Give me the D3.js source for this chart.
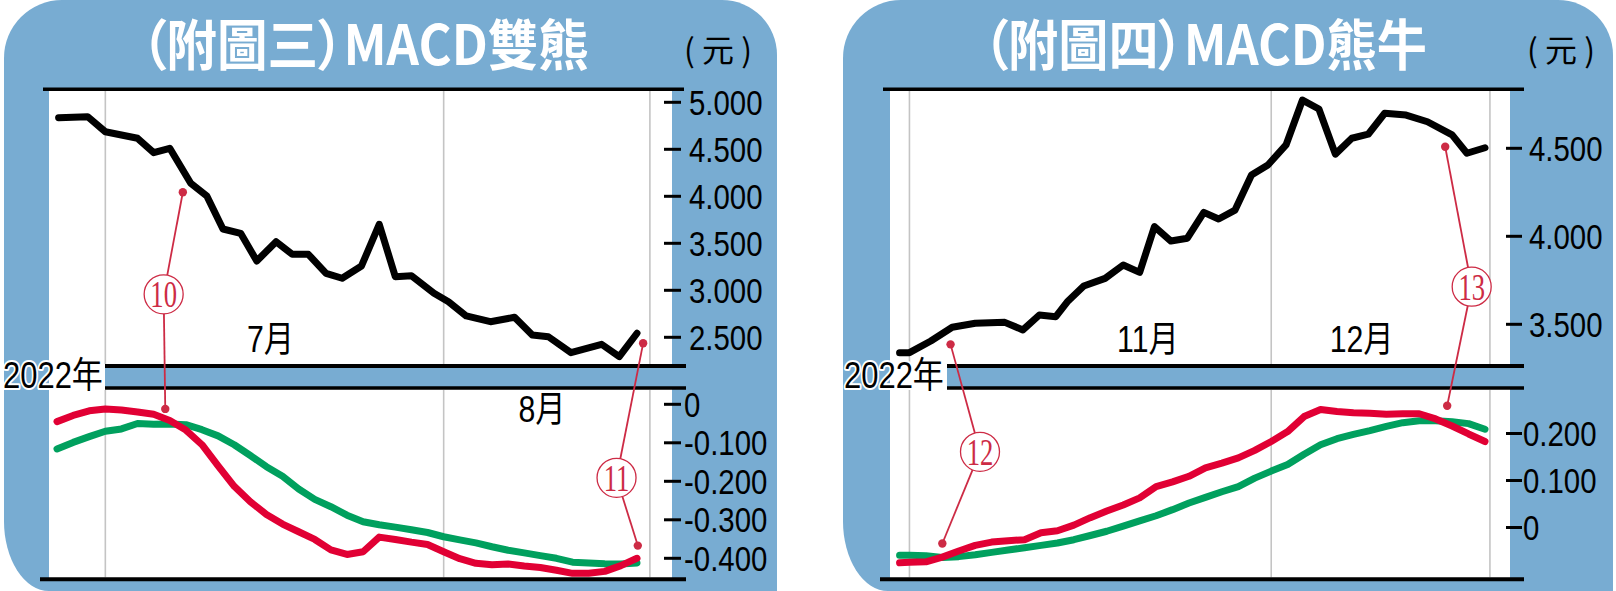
<!DOCTYPE html>
<html><head><meta charset="utf-8">
<script src="https://cdn.jsdelivr.net/npm/d3@7/dist/d3.min.js"></script>
<style>
html,body{margin:0;padding:0;background:#fff;}
svg{display:block;}
.ttl{font-feature-settings:"palt" 1;}
</style></head><body>
<svg id="c" width="1616" height="591"></svg>
<script>
// ================= DATA =================
const leftTitle = "（附圖三）MACD雙熊";
const rightTitle = "（附圖四）MACD熊牛";
const unitLabel = "( 元 )";
const yearLabel = "2022年";

// left chart (trading-day index, price)
const leftPriceDays   = [0.1, 1.9, 3.0, 5.0, 6.0, 7.0, 8.3, 9.3, 10.3, 11.4, 12.4, 13.6, 14.6, 15.6, 16.7, 17.7, 18.9, 20.0, 21.0, 22.0, 23.4, 24.3, 25.4, 26.9, 28.4, 29.5, 30.5, 31.9, 33.8, 34.9, 36.0];
const leftPriceValues = [4.836, 4.847, 4.687, 4.617, 4.464, 4.511, 4.138, 4.003, 3.652, 3.606, 3.312, 3.517, 3.383, 3.383, 3.181, 3.128, 3.259, 3.702, 3.145, 3.155, 2.968, 2.879, 2.727, 2.666, 2.713, 2.524, 2.506, 2.336, 2.426, 2.294, 2.543];
const leftMacdDays = [0,1,2,3,4,5,6,7,8,9,10,11,12,13,14,15,16,17,18,19,20,21,22,23,24,25,26,27,28,29,30,31,32,33,34,35,36];
const leftDif = [-0.045, -0.029, -0.017, -0.012, -0.015, -0.020, -0.026, -0.042, -0.067, -0.105, -0.160, -0.213, -0.253, -0.286, -0.311, -0.331, -0.351, -0.378, -0.390, -0.383, -0.345, -0.351, -0.358, -0.364, -0.383, -0.401, -0.413, -0.417, -0.415, -0.420, -0.424, -0.431, -0.439, -0.439, -0.434, -0.419, -0.400];
const leftDea = [-0.116, -0.099, -0.084, -0.070, -0.064, -0.050, -0.052, -0.051, -0.053, -0.066, -0.082, -0.105, -0.133, -0.162, -0.187, -0.220, -0.247, -0.266, -0.288, -0.305, -0.313, -0.319, -0.326, -0.333, -0.344, -0.352, -0.360, -0.370, -0.379, -0.386, -0.393, -0.400, -0.410, -0.412, -0.414, -0.415, -0.412];
const leftPriceTicks = [5.0, 4.5, 4.0, 3.5, 3.0, 2.5];
const leftPriceTickLabels = ["5.000", "4.500", "4.000", "3.500", "3.000", "2.500"];
const leftMacdTicks = [0, -0.1, -0.2, -0.3, -0.4];
const leftMacdTickLabels = ["0", "-0.100", "-0.200", "-0.300", "-0.400"];
const leftGridDays = [3, 24, 36.8];
const leftMonthLabels = ["7月", "8月"];
const leftMonthDays = [13.25, 30.1];
const leftMonthRows = ["top", "bottom"];
const leftNotes = [
  {label: "10", at: [6.62, "price", 2.957], to: [[7.81, "price", 4.043], [6.72, "macd", -0.012]]},
  {label: "11", at: [34.73, "macd", -0.191], to: [[36.38, "price", 2.436], [36.05, "macd", -0.367]]}
];

// right chart
const rightPriceDays   = [0.4, 1, 2.3, 3.6, 5, 6.8, 7.9, 8.9, 9.9, 10.6, 11.6, 12.9, 14, 15, 15.9, 16.9, 17.9, 18.9, 19.8, 20.8, 21.8, 22.8, 23.9, 24.9, 25.9, 26.9, 27.9, 28.9, 29.9, 31.2, 32.5, 34, 34.9, 36];
const rightPriceValues = [3.339, 3.339, 3.405, 3.483, 3.506, 3.511, 3.468, 3.553, 3.543, 3.628, 3.718, 3.761, 3.837, 3.795, 4.055, 3.973, 3.989, 4.136, 4.098, 4.149, 4.348, 4.405, 4.519, 4.774, 4.723, 4.467, 4.557, 4.580, 4.699, 4.689, 4.651, 4.576, 4.472, 4.503];
const rightMacdDays = [0.4,1,2,3,4,5,6,7,8,9,10,11,12,13,14,15,16,17,18,19,20,21,22,23,24,25,26,27,28,29,30,31,32,33,34,35,36];
const rightDif = [-0.075, -0.074, -0.073, -0.063, -0.050, -0.038, -0.031, -0.028, -0.026, -0.011, -0.007, 0.005, 0.021, 0.035, 0.048, 0.063, 0.087, 0.097, 0.109, 0.127, 0.137, 0.148, 0.164, 0.183, 0.204, 0.236, 0.251, 0.247, 0.244, 0.243, 0.241, 0.242, 0.242, 0.231, 0.216, 0.199, 0.183];
const rightDea = [-0.059, -0.059, -0.060, -0.064, -0.062, -0.058, -0.053, -0.048, -0.043, -0.038, -0.033, -0.026, -0.017, -0.008, 0.003, 0.014, 0.025, 0.038, 0.052, 0.064, 0.076, 0.087, 0.105, 0.120, 0.134, 0.156, 0.176, 0.189, 0.198, 0.206, 0.215, 0.223, 0.227, 0.227, 0.225, 0.221, 0.209];
const rightPriceTicks = [4.5, 4.0, 3.5];
const rightPriceTickLabels = ["4.500", "4.000", "3.500"];
const rightMacdTicks = [0.2, 0.1, 0];
const rightMacdTickLabels = ["0.200", "0.100", "0"];
const rightGridDays = [1, 23, 36.3];
const rightMonthLabels = ["11月", "12月"];
const rightMonthDays = [15.5, 28.5];
const rightMonthRows = ["top", "top"];
const rightNotes = [
  {label: "12", at: [5.29, "macd", 0.161], to: [[3.5, "price", 3.386], [3.0, "macd", -0.034]]},
  {label: "13", at: [35.19, "price", 3.714], to: [[33.58, "price", 4.509], [33.7, "macd", 0.259]]}
];

// ================= LAYOUT / STYLE =================
const BLUE = "#78acd2", RED = "#e10034", GREEN = "#00a05e", NOTE = "#cd2b45", GRID = "#c4c4c4";
const Y = {topLine: 89.3, plotTop: 91, line1: 366, line2: 388, botLine: 579.3,
           monthTop: 352, monthBottom: 422, yearBase: 388, titleBase: 65, unitBase: 62};
const FONT = "'Liberation Sans', 'Noto Sans CJK TC', sans-serif";
const CJK = "'Noto Sans CJK TC', sans-serif";

const panels = [
  {title: leftTitle, titleX: 365, titleW: 448, unitX: 684, bg: [4, 777], plot: [49, 672], xr: [57, 637],
   pd: [2.5, 5], pr: [337.3, 102.3], md: [-0.4, 0], mr: [558.3, 404.3],
   priceDays: leftPriceDays, price: leftPriceValues, macdDays: leftMacdDays, dif: leftDif, dea: leftDea,
   pTicks: leftPriceTicks, pLabels: leftPriceTickLabels, mTicks: leftMacdTicks, mLabels: leftMacdTickLabels,
   grid: leftGridDays, months: leftMonthLabels, monthDays: leftMonthDays, monthRows: leftMonthRows, notes: leftNotes,
   tickX: [664, 681], pLabX: 689, mLabX: 684, topLine: [43, 684], stripLine: [105, 686], botLine: [40, 686], yearX: 3},
  {title: rightTitle, titleX: 1205, titleW: 444, unitX: 1527, bg: [843, 1613], plot: [890, 1510], xr: [893, 1485],
   pd: [3.5, 4.5], pr: [324.3, 148.3], md: [0, 0.2], mr: [527.5, 433.5],
   priceDays: rightPriceDays, price: rightPriceValues, macdDays: rightMacdDays, dif: rightDif, dea: rightDea,
   pTicks: rightPriceTicks, pLabels: rightPriceTickLabels, mTicks: rightMacdTicks, mLabels: rightMacdTickLabels,
   grid: rightGridDays, months: rightMonthLabels, monthDays: rightMonthDays, monthRows: rightMonthRows, notes: rightNotes,
   tickX: [1506, 1522], pLabX: 1529, mLabX: 1523, topLine: [883, 1524], stripLine: [947, 1524], botLine: [880, 1524], yearX: 844}
];

const svg = d3.select("#c");
svg.append("rect").attr("width", 1616).attr("height", 591).attr("fill", "#fff");

function condense(sel, k) {
  sel.each(function () {
    const L = this.getComputedTextLength();
    d3.select(this).attr("textLength", L * k).attr("lengthAdjust", "spacingAndGlyphs");
  });
}

panels.forEach(p => {
  const g = svg.append("g");
  const x = d3.scaleLinear().domain([0, 36]).range(p.xr);
  const yP = d3.scaleLinear().domain(p.pd).range(p.pr);
  const yM = d3.scaleLinear().domain(p.md).range(p.mr);
  const pos = (d, row, v) => [x(d), row === "price" ? yP(v) : yM(v)];

  // panel background
  const [x0, x1] = p.bg, y0 = 0, y1 = 591;
  g.append("path").attr("fill", BLUE).attr("d",
    `M${x0},${y0 + 58} A58,58 0 0 1 ${x0 + 58},${y0} L${x1 - 55},${y0} A55,55 0 0 1 ${x1},${y0 + 55}` +
    ` L${x1},${y1} L${x0 + 45},${y1} A45,70 0 0 1 ${x0},${y1 - 70} Z`);

  // plot area
  g.append("rect").attr("x", p.plot[0]).attr("y", Y.plotTop).attr("width", p.plot[1] - p.plot[0])
    .attr("height", Y.botLine - Y.plotTop).attr("fill", "#fff");
  g.append("rect").attr("x", p.stripLine[0]).attr("y", Y.line1).attr("width", p.plot[1] - p.stripLine[0])
    .attr("height", Y.line2 - Y.line1).attr("fill", BLUE);

  // month gridlines
  p.grid.forEach(d => {
    g.append("line").attr("x1", x(d)).attr("x2", x(d)).attr("y1", Y.plotTop).attr("y2", Y.line1 - 2)
      .attr("stroke", GRID).attr("stroke-width", 1.6);
    g.append("line").attr("x1", x(d)).attr("x2", x(d)).attr("y1", Y.line2 + 2).attr("y2", Y.botLine - 2)
      .attr("stroke", GRID).attr("stroke-width", 1.6);
  });

  // black frame lines
  [[p.topLine, Y.topLine, 3.6], [p.stripLine, Y.line1, 3.8], [p.stripLine, Y.line2, 3.4], [p.botLine, Y.botLine, 4]]
    .forEach(([xs, yy, w]) => g.append("line").attr("x1", xs[0]).attr("x2", xs[1]).attr("y1", yy).attr("y2", yy)
      .attr("stroke", "#000").attr("stroke-width", w));

  // ticks & labels
  const tickG = g.append("g");
  p.pTicks.forEach((t, i) => {
    tickG.append("line").attr("x1", p.tickX[0]).attr("x2", p.tickX[1]).attr("y1", yP(t)).attr("y2", yP(t))
      .attr("stroke", "#000").attr("stroke-width", 3);
    tickG.append("text").attr("class", "tl").attr("x", p.pLabX).attr("y", yP(t)).attr("dy", "0.36em")
      .text(p.pLabels[i]);
  });
  p.mTicks.forEach((t, i) => {
    tickG.append("line").attr("x1", p.tickX[0]).attr("x2", p.tickX[1]).attr("y1", yM(t)).attr("y2", yM(t))
      .attr("stroke", "#000").attr("stroke-width", 3);
    tickG.append("text").attr("class", "tl").attr("x", p.mLabX).attr("y", yM(t)).attr("dy", "0.36em")
      .text(p.mLabels[i]);
  });
  tickG.selectAll("text.tl").attr("font-family", FONT).attr("font-size", 35).attr("fill", "#000")
    .call(condense, 0.84);

  // lines
  const priceLine = d3.line().x((d, i) => x(p.priceDays[i])).y(d => yP(d));
  const macdLine = d3.line().x((d, i) => x(p.macdDays[i])).y(d => yM(d));
  g.append("path").attr("d", priceLine(p.price)).attr("fill", "none").attr("stroke", "#000")
    .attr("stroke-width", 7).attr("stroke-linejoin", "round").attr("stroke-linecap", "round");
  g.append("path").attr("d", macdLine(p.dea)).attr("fill", "none").attr("stroke", GREEN)
    .attr("stroke-width", 7).attr("stroke-linejoin", "round").attr("stroke-linecap", "round");
  g.append("path").attr("d", macdLine(p.dif)).attr("fill", "none").attr("stroke", RED)
    .attr("stroke-width", 7).attr("stroke-linejoin", "round").attr("stroke-linecap", "round");

  // annotations
  const R = 19.5;
  p.notes.forEach(n => {
    const c = pos(...n.at);
    n.to.forEach(t => {
      const e = pos(...t);
      const dx = e[0] - c[0], dy = e[1] - c[1], L = Math.hypot(dx, dy);
      g.append("line").attr("x1", c[0] + dx / L * R).attr("y1", c[1] + dy / L * R)
        .attr("x2", e[0]).attr("y2", e[1]).attr("stroke", NOTE).attr("stroke-width", 1.8);
      g.append("circle").attr("cx", e[0]).attr("cy", e[1]).attr("r", 4.2).attr("fill", NOTE);
    });
    g.append("circle").attr("cx", c[0]).attr("cy", c[1]).attr("r", R).attr("fill", "#fff")
      .attr("stroke", NOTE).attr("stroke-width", 1.3);
    g.append("text").attr("x", c[0]).attr("y", c[1]).attr("dy", "0.34em").attr("text-anchor", "middle")
      .attr("font-family", "'Liberation Serif', serif").attr("font-size", 38).attr("fill", NOTE)
      .text(n.label).call(condense, 0.7);
  });

  // month labels
  p.months.forEach((m, i) => {
    g.append("text").attr("x", x(p.monthDays[i])).attr("y", p.monthRows[i] === "top" ? Y.monthTop : Y.monthBottom)
      .attr("text-anchor", "middle").attr("font-family", FONT).attr("font-size", 36).attr("fill", "#000")
      .text(m).call(condense, 0.84);
  });

  // year label with halo
  g.append("text").attr("x", p.yearX).attr("y", Y.yearBase).attr("font-family", FONT).attr("font-size", 36)
    .attr("fill", "#000").attr("stroke", "#fff").attr("stroke-width", 4).attr("paint-order", "stroke")
    .attr("stroke-linejoin", "round").text(yearLabel).call(condense, 0.86);

  // title & unit
  g.append("text").attr("class", "ttl").attr("x", p.titleX).attr("y", Y.titleBase).attr("text-anchor", "middle")
    .attr("font-family", CJK).attr("font-weight", 700).attr("font-size", 55).attr("fill", "#fff")
    .attr("textLength", p.titleW).attr("lengthAdjust", "spacingAndGlyphs")
    .text(p.title);
  g.append("text").attr("x", p.unitX).attr("y", Y.unitBase).attr("font-family", CJK).attr("font-size", 32)
    .attr("fill", "#000").text(unitLabel);
});
</script>
</body></html>
